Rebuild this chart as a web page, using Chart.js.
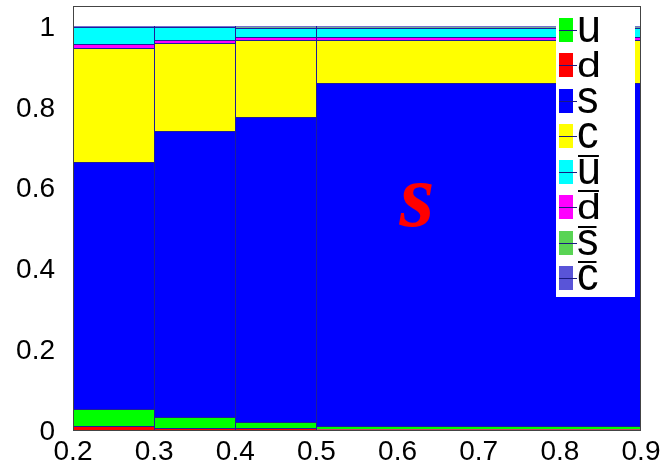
<!DOCTYPE html>
<html>
<head>
<meta charset="utf-8">
<script src="https://cdn.jsdelivr.net/npm/chart.js@4/dist/chart.umd.min.js"></script>
<style>
  html, body { margin: 0; padding: 0; background: #ffffff; }
  canvas { display: block; }
</style>
</head>
<body>
<canvas id="chart" width="664" height="472"></canvas>
<script>
// Bin edges of the histogram (variable width: last bin spans 0.5-0.9)
const binEdges = [0.2, 0.3, 0.4, 0.5, 0.9];

// Axis tick values
const xTickValues = [0.2, 0.3, 0.4, 0.5, 0.6, 0.7, 0.8, 0.9];
const yTickValues = [0, 0.2, 0.4, 0.6, 0.8, 1];

// Flavour fractions per bin
const fracU    = [0.042, 0.025, 0.017, 0.009];
const fracD    = [0.010, 0.006, 0.004, 0.002];
const fracS    = [0.612, 0.710, 0.754, 0.849];
const fracC    = [0.282, 0.218, 0.191, 0.107];
const fracUbar = [0.042, 0.032, 0.023, 0.023];
const fracDbar = [0.009, 0.006, 0.007, 0.006];
const fracSbar = [0.002, 0.002, 0.002, 0.002];
const fracCbar = [0.001, 0.001, 0.002, 0.002];

// Legend entries (letter + antiquark overline flag), in legend order
const legendKeys    = ['u', 'd', 's', 'c', 'ubar', 'dbar', 'sbar', 'cbar'];
const legendLetters = ['u', 'd', 's', 'c', 'u', 'd', 's', 'c'];
const legendAnti    = [false, false, false, false, true, true, true, true];

// Order in which the flavours are stacked, bottom to top
const stackOrder = ['d', 'u', 's', 'c', 'dbar', 'ubar', 'sbar', 'cbar'];

const series = {
  u: fracU, d: fracD, s: fracS, c: fracC,
  ubar: fracUbar, dbar: fracDbar, sbar: fracSbar, cbar: fracCbar
};

const fillColours = {
  u: '#00ff00', d: '#ff0000', s: '#0000ff', c: '#ffff00',
  ubar: '#00ffff', dbar: '#ff00ff', sbar: '#59d454', cbar: '#5954d8'
};

const FONT = '"Liberation Sans", Arial, Helvetica, sans-serif';

// Stretch every bar to its own bin edges on the x scale, snapped to whole pixels
const binWidthPlugin = {
  id: 'binWidths',
  afterDatasetsUpdate(chart) {
    const xs = chart.scales.x;
    chart.data.datasets.forEach((ds, di) => {
      chart.getDatasetMeta(di).data.forEach((bar, i) => {
        const l = Math.round(xs.getPixelForValue(binEdges[i]));
        const r = Math.round(xs.getPixelForValue(binEdges[i + 1]));
        bar.x = (l + r) / 2;
        bar.width = r - l;
        bar.y = Math.round(bar.y);
        bar.base = Math.round(bar.base);
        bar.height = bar.base - bar.y;
      });
    });
  }
};

// Big label naming the dominant flavour
const flavourLabelPlugin = {
  id: 'flavourLabel',
  afterDatasetsDraw(chart) {
    const ctx = chart.ctx;
    const x = chart.scales.x.getPixelForValue(0.624);
    const y = chart.scales.y.getPixelForValue(0.504);
    ctx.save();
    ctx.fillStyle = '#ff0000';
    ctx.font = 'italic bold 90px "Liberation Serif", "Times New Roman", serif';
    ctx.textAlign = 'center';
    ctx.textBaseline = 'alphabetic';
    ctx.fillText('s', x, y);
    ctx.restore();
  }
};

// Legend box inside the plot frame, then the frame itself
const legendFramePlugin = {
  id: 'legendFrame',
  afterDraw(chart) {
    const ctx = chart.ctx;
    const ca = chart.chartArea;
    const W = ca.right - ca.left;
    const H = ca.bottom - ca.top;

    const x0 = Math.round(ca.left + 0.850 * W);
    const x1 = Math.round(ca.left + 0.989 * W);
    const y0 = ca.top;
    const y1 = Math.round(ca.top + 0.686 * H);

    ctx.save();
    ctx.fillStyle = '#ffffff';
    ctx.fillRect(x0, y0, x1 - x0, y1 - y0);

    const firstCentre = y0 + 0.0555 * H;
    const rowStep = 0.0838 * H;
    const boxH = 24, boxW = 14;
    const boxX = x0 + 3;
    const textX = x0 + 21;

    legendKeys.forEach((key, i) => {
      const cy = Math.round(firstCentre + i * rowStep);
      const top = cy - boxH / 2;
      const bot = cy + boxH / 2;

      ctx.fillStyle = fillColours[key];
      ctx.fillRect(boxX, top, boxW, boxH);
      ctx.strokeStyle = '#1a1a80';
      ctx.lineWidth = 1;
      ctx.beginPath();
      ctx.moveTo(boxX, cy + 0.5);
      ctx.lineTo(boxX + 18, cy + 0.5);
      ctx.stroke();

      // letter fitted to the height of the colour box
      const letter = legendLetters[i];
      ctx.font = '43px ' + FONT;
      ctx.textAlign = 'left';
      ctx.textBaseline = 'alphabetic';
      const m = ctx.measureText(letter);
      const ink = m.actualBoundingBoxAscent + m.actualBoundingBoxDescent;
      const gTop = top - 1, gBot = bot;
      const sy = (gBot - gTop) / ink;
      ctx.fillStyle = '#000000';
      ctx.save();
      ctx.translate(textX, gBot - m.actualBoundingBoxDescent * sy);
      ctx.scale(1, sy);
      ctx.fillText(letter, 0, 0);
      ctx.restore();

      if (legendAnti[i]) {
        ctx.fillRect(textX + 1, top - 5, m.width - 3, 2);
      }
    });

    // plot frame
    ctx.strokeStyle = '#444444';
    ctx.lineWidth = 1;
    ctx.strokeRect(Math.round(ca.left) + 0.5, Math.round(ca.top) + 0.5,
                   Math.round(W) - 1, Math.round(H));
    ctx.restore();
  }
};

const datasets = stackOrder.map(key => ({
  label: key,
  data: series[key].map((v, i) => ({ x: (binEdges[i] + binEdges[i + 1]) / 2, y: v })),
  backgroundColor: fillColours[key],
  borderColor: '#1e1e9a',
  borderWidth: { top: 1, left: 1, right: 0, bottom: 0 },
  borderSkipped: false,
  stack: 'flavours'
}));

new Chart(document.getElementById('chart'), {
  type: 'bar',
  data: { datasets },
  options: {
    responsive: false,
    animation: false,
    devicePixelRatio: 1,
    layout: { padding: { top: 6, right: 23, bottom: 0, left: 0 } },
    plugins: {
      legend: { display: false },
      tooltip: { enabled: false }
    },
    scales: {
      x: {
        type: 'linear',
        stacked: true,
        offset: false,
        min: 0.2,
        max: 0.9,
        grid: { display: false, drawTicks: false, offset: false },
        border: { display: false },
        afterBuildTicks: s => { s.ticks = xTickValues.map(v => ({ value: v })); },
        afterFit: s => { s.height = 42; s.paddingLeft = 0; s.paddingRight = 0; },
        ticks: {
          autoSkip: false,
          maxRotation: 0,
          padding: 5,
          color: '#000000',
          font: { family: FONT, size: 28 },
          callback: v => String(v)
        }
      },
      y: {
        stacked: true,
        min: 0,
        max: 1.05,
        grid: { display: false, drawTicks: false },
        border: { display: false },
        afterBuildTicks: s => { s.ticks = yTickValues.map(v => ({ value: v })); },
        afterFit: s => { s.width = 73; s.paddingTop = 0; s.paddingBottom = 0; },
        ticks: {
          padding: 18,
          labelOffset: 2,
          color: '#000000',
          font: { family: FONT, size: 28 },
          callback: v => String(v)
        }
      }
    }
  },
  plugins: [binWidthPlugin, flavourLabelPlugin, legendFramePlugin]
});
</script>
</body>
</html>
